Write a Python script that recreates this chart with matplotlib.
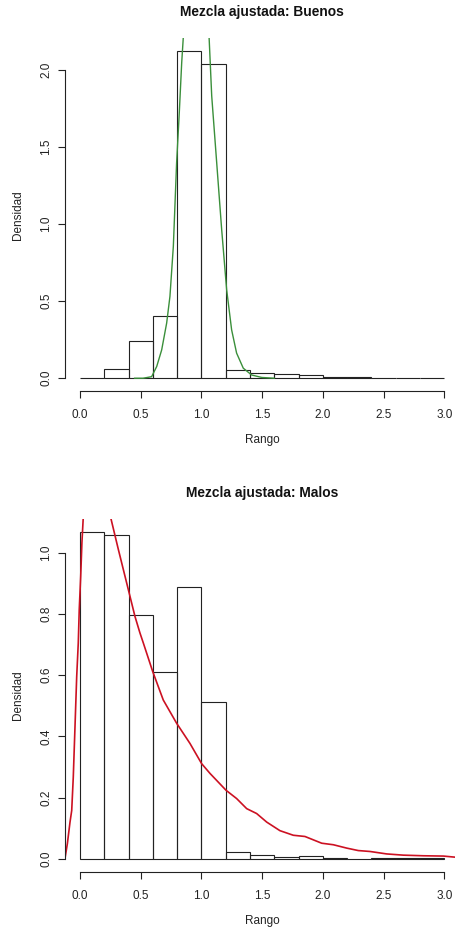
import matplotlib
matplotlib.use('Agg')
import matplotlib.pyplot as plt

plt.rcParams['font.family'] = ['Liberation Sans', 'DejaVu Sans']

# histogram breaks (width 0.2) and densities
breaks = [0.0, 0.2, 0.4, 0.6, 0.8, 1.0, 1.2, 1.4, 1.6, 1.8, 2.0, 2.2, 2.4, 2.6, 2.8, 3.0]
buenos_dens = [0.0, 0.059, 0.241, 0.403, 2.121, 2.038, 0.052, 0.033, 0.026, 0.020,
               0.007, 0.007, 0.0, 0.0, 0.0]
malos_dens = [1.068, 1.058, 0.797, 0.611, 0.889, 0.514, 0.023, 0.012, 0.006, 0.009,
              0.002, 0.0, 0.002, 0.002, 0.002]

# fitted mixture curves (peaks are clipped)
buenos_curve_x = [0.45, 0.52, 0.59, 0.632, 0.673, 0.714, 0.741, 0.769, 0.796, 0.818,
                  0.838, 0.87, 0.91, 0.96, 1.01, 1.05, 1.085, 1.126, 1.167, 1.208,
                  1.249, 1.29, 1.345, 1.414, 1.497, 1.6]
buenos_curve_y = [0.0, 0.0, 0.01, 0.076, 0.184, 0.358, 0.531, 0.856, 1.399, 1.724,
                  2.05, 2.45, 2.9, 3.1, 2.9, 2.45, 1.832, 1.399, 0.965, 0.575,
                  0.314, 0.163, 0.065, 0.021, 0.005, 0.0]

malos_curve_x = [-0.124, -0.104, -0.082, -0.068, -0.055, -0.041, -0.027, -0.014, -0.006,
                 0.006, 0.016, 0.027, 0.06, 0.12, 0.18, 0.22, 0.253, 0.316, 0.398,
                 0.453, 0.494, 0.522, 0.599, 0.686, 0.796, 0.906, 1.002, 1.071, 1.203,
                 1.29, 1.373, 1.455, 1.538, 1.647, 1.757, 1.853, 1.922, 1.991, 2.087,
                 2.197, 2.292, 2.389, 2.526, 2.663, 2.828, 2.993, 3.1]
malos_curve_y = [0.0, 0.049, 0.12, 0.158, 0.268, 0.431, 0.595, 0.705, 0.814,
                 0.923, 1.033, 1.115, 1.35, 1.5, 1.4, 1.27, 1.115, 1.011, 0.880,
                 0.792, 0.738, 0.705, 0.612, 0.519, 0.443, 0.377, 0.311, 0.279, 0.224,
                 0.197, 0.164, 0.148, 0.120, 0.092, 0.077, 0.073, 0.062, 0.051, 0.046,
                 0.035, 0.027, 0.024, 0.016, 0.012, 0.010, 0.009, 0.005]

W, H = 455, 930
fig = plt.figure(figsize=(W / 100, H / 100), dpi=100)
fs = 8.5


def panel(top_px, dens, cx, cy, color, lw, title, yticks):
    ymax = max(dens)
    ylo, yhi = -0.04 * ymax, 1.04 * ymax
    xlo, xhi = -0.12, 3.12
    left_px = 65.4
    width_px = 393.4
    height_px = 353.0
    ax = fig.add_axes([left_px / W, 1 - (top_px + height_px) / H, width_px / W, height_px / H])
    ax.set_xlim(xlo, xhi)
    ax.set_ylim(ylo, yhi)
    ax.patch.set_alpha(0)

    ax.bar(breaks[:-1], dens, width=0.2, align='edge', fill=False,
           edgecolor='#222222', linewidth=0.8)
    ax.plot(cx, cy, color=color, linewidth=lw)

    for s in ['top', 'right']:
        ax.spines[s].set_visible(False)
    ax.spines['left'].set_bounds(yticks[0], yticks[-1])
    ax.spines['bottom'].set_bounds(0, 3)
    for s in ['left', 'bottom']:
        ax.spines[s].set_linewidth(0.8)
        ax.spines[s].set_color('#222222')

    ax.set_xticks([0.0, 0.5, 1.0, 1.5, 2.0, 2.5, 3.0])
    ax.set_xticklabels(['0.0', '0.5', '1.0', '1.5', '2.0', '2.5', '3.0'])
    ax.set_yticks(yticks)
    ax.set_yticklabels(['%.1f' % v for v in yticks], rotation=90, va='center')
    ax.tick_params(length=5, width=0.8, color='#222222', labelsize=fs, labelcolor='#222222')
    ax.tick_params(axis='x', pad=8)
    ax.tick_params(axis='y', pad=4.5)

    cx_px = left_px + width_px / 2
    cy_px = top_px + height_px / 2
    fig.text(cx_px / W, 1 - (top_px - 26) / H, title, ha='center', va='center',
             fontsize=9.9, fontweight='bold', color='#111111')
    fig.text(cx_px / W, 1 - (top_px + 402) / H, 'Rango', ha='center', va='center',
             fontsize=fs, color='#222222')
    fig.text(18 / W, 1 - cy_px / H, 'Densidad', ha='center', va='center',
             rotation=90, fontsize=fs, color='#222222')
    return ax


panel(38.3, buenos_dens, buenos_curve_x, buenos_curve_y, '#3a8f3a', 1.0,
      'Mezcla ajustada: Buenos', [0.0, 0.5, 1.0, 1.5, 2.0])
panel(518.9, malos_dens, malos_curve_x, malos_curve_y, '#cc1122', 1.2,
      'Mezcla ajustada: Malos', [0.0, 0.2, 0.4, 0.6, 0.8, 1.0])

fig.savefig('out.png', dpi=100)
